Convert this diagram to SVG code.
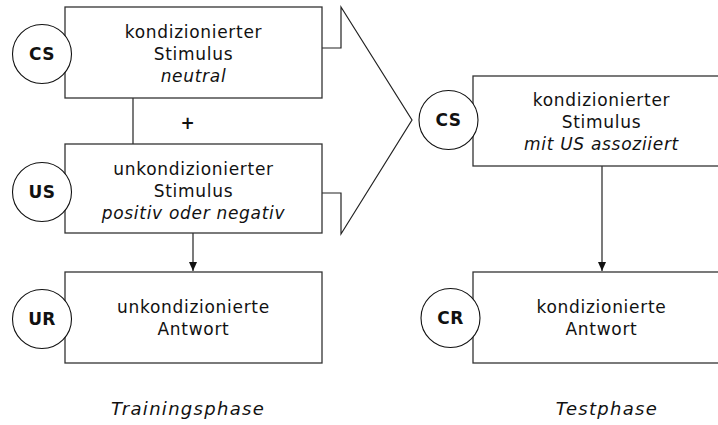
<svg xmlns="http://www.w3.org/2000/svg" width="718" height="425" viewBox="0 0 718 425">
<style>
.box{fill:#fff;stroke:#333;stroke-width:1.3}
.circ{fill:#fff;stroke:#111;stroke-width:1.1}
.t{font-family:"DejaVu Sans",Verdana,sans-serif;font-size:17px;letter-spacing:0.7px;fill:#111;text-anchor:middle}
.i{font-style:italic}
.plus{font-weight:bold}
.lbl{font-family:"DejaVu Sans",Verdana,sans-serif;font-size:17px;font-weight:bold;letter-spacing:0.4px;fill:#111;text-anchor:middle}
.ph{font-family:"DejaVu Sans",Verdana,sans-serif;font-size:18px;font-style:italic;letter-spacing:1.3px;fill:#111;text-anchor:middle}
.ln{fill:none;stroke:#222;stroke-width:1.2}
</style>
<defs>
<marker id="ah" markerWidth="10" markerHeight="10" refX="9" refY="5" orient="auto" markerUnits="userSpaceOnUse">
<path d="M0,1 L9,5 L0,9 Z" fill="#111"/>
</marker>
</defs>
<rect width="718" height="425" fill="#fff"/>
<g id="connectors">
<line class="ln" x1="133" y1="98" x2="133" y2="144"/>
<text class="t plus" x="188" y="129">+</text>
<line class="ln" x1="193" y1="233" x2="193" y2="271" marker-end="url(#ah)"/>
<line class="ln" x1="602" y1="166" x2="602" y2="271" marker-end="url(#ah)"/>
<path class="ln" d="M322,48 H341 V7 L412,120 L341,234 V193 H322"/>
</g>
<g id="cs-train">
<rect class="box" x="65" y="7" width="257" height="91"/>
<text class="t" x="193.5" y="38">kondizionierter</text>
<text class="t" x="193.5" y="60">Stimulus</text>
<text class="t i" x="193.5" y="82">neutral</text>
<circle class="circ" cx="42" cy="54" r="29.5"/>
<text class="lbl" x="42" y="60">CS</text>
</g>
<g id="us-train">
<rect class="box" x="65" y="144" width="257" height="89"/>
<text class="t" x="193.5" y="175">unkondizionierter</text>
<text class="t" x="193.5" y="197">Stimulus</text>
<text class="t i" x="193.5" y="219">positiv oder negativ</text>
<circle class="circ" cx="42" cy="192" r="29.5"/>
<text class="lbl" x="42" y="198">US</text>
</g>
<g id="ur-train">
<rect class="box" x="65" y="272" width="257" height="91"/>
<text class="t" x="193.5" y="313">unkondizionierte</text>
<text class="t" x="193.5" y="335">Antwort</text>
<circle class="circ" cx="42" cy="319" r="29.5"/>
<text class="lbl" x="42" y="325">UR</text>
</g>
<g id="cs-test">
<rect class="box" x="473" y="76" width="257" height="90"/>
<text class="t" x="601.5" y="106">kondizionierter</text>
<text class="t" x="601.5" y="128">Stimulus</text>
<text class="t i" x="601.5" y="150">mit US assoziiert</text>
<circle class="circ" cx="448.5" cy="120" r="29.5"/>
<text class="lbl" x="448.5" y="126">CS</text>
</g>
<g id="cr-test">
<rect class="box" x="473" y="272" width="257" height="91"/>
<text class="t" x="601.5" y="313">kondizionierte</text>
<text class="t" x="601.5" y="335">Antwort</text>
<circle class="circ" cx="450.5" cy="318" r="29.5"/>
<text class="lbl" x="450.5" y="324">CR</text>
</g>
<g id="phases">
<text class="ph" x="188" y="415">Trainingsphase</text>
<text class="ph" x="607" y="415">Testphase</text>
</g>
</svg>
